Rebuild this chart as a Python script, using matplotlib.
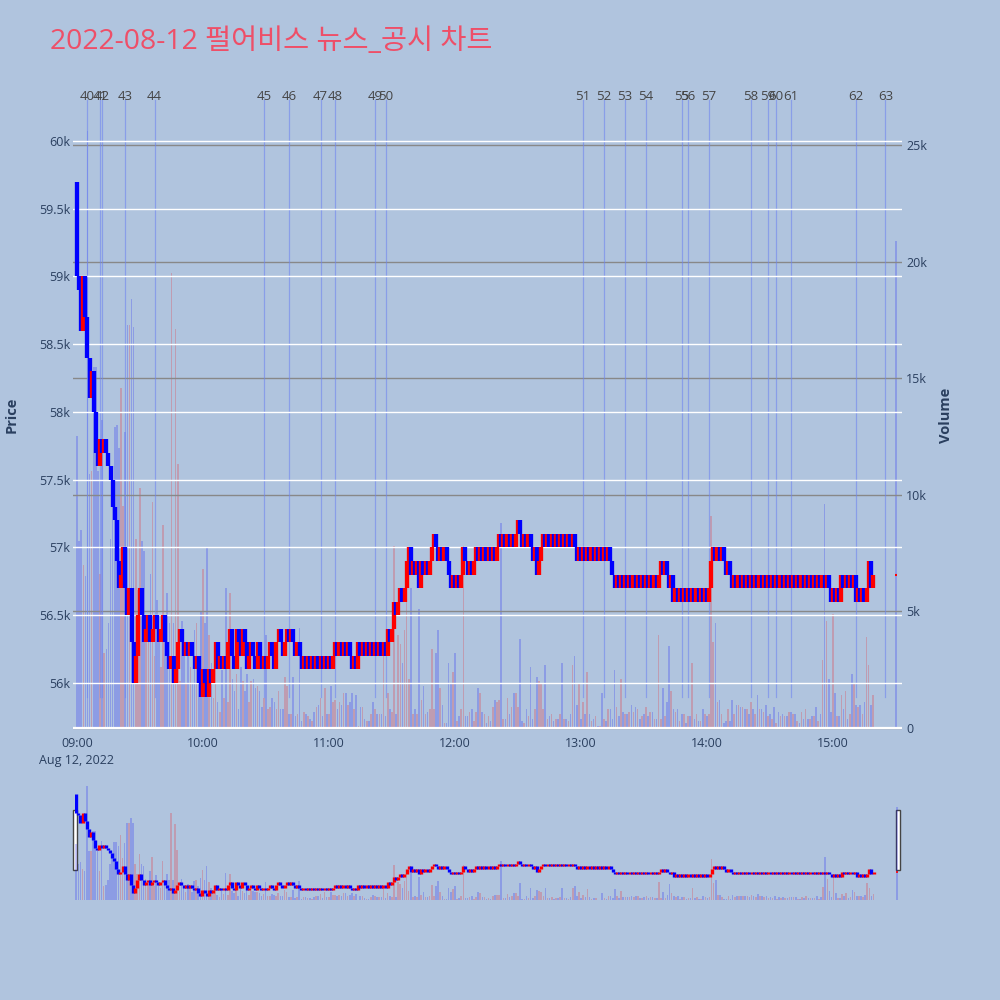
import numpy as np
import matplotlib.pyplot as plt
from matplotlib.patches import Rectangle

# 한글 폰트 설정
plt.rcParams['font.family'] = ['Open Sans', 'Noto Sans CJK KR', 'DejaVu Sans']

title = '2022-08-12 펄어비스 뉴스_공시 차트'

# 1분봉 종가 (단위: 100원), 09:00 ~ 15:19
first_open = 597
closes = [
    590, 589, 586, 590, 587, 584, 581, 583, 580, 577,
    576, 578, 577, 578, 577, 576, 575, 573, 572, 569,
    567, 568, 570, 567, 565, 567, 563, 560, 562, 565,
    567, 565, 563, 564, 565, 563, 564, 565, 564, 563,
    564, 565, 563, 562, 561, 562, 560, 561, 563, 564,
    563, 562, 563, 562, 563, 562, 561, 562, 560, 559,
    561, 560, 559, 561, 560, 561, 563, 561, 562, 561,
    562, 561, 563, 564, 562, 561, 564, 563, 562, 564,
    563, 561, 562, 563, 562, 561, 563, 562, 561, 562,
    561, 562, 563, 562, 561, 563, 564, 563, 562, 563,
    564, 563, 564, 563, 562, 563, 562, 561, 562, 561,
    562, 561, 562, 561, 562, 561, 562, 561, 562, 561,
    562, 561, 562, 563, 562, 563, 562, 563, 562, 563,
    562, 561, 562, 561, 563, 562, 563, 562, 563, 562,
    563, 562, 563, 562, 563, 562, 563, 562, 564, 563,
    564, 566, 565, 566, 567, 566, 567, 569, 570, 568,
    569, 568, 569, 567, 569, 568, 569, 568, 569, 570,
    571, 570, 569, 570, 569, 570, 569, 568, 567, 568,
    567, 568, 567, 568, 570, 569, 568, 569, 568, 569,
    570, 569, 570, 569, 570, 569, 570, 569, 570, 569,
    570, 571, 570, 571, 570, 571, 570, 571, 570, 571,
    572, 571, 570, 571, 570, 571, 570, 569, 570, 568,
    569, 570, 571, 570, 571, 570, 571, 570, 571, 570,
    571, 570, 571, 570, 571, 570, 571, 570, 569, 570,
    569, 570, 569, 570, 569, 570, 569, 570, 569, 570,
    569, 570, 569, 570, 569, 568, 567, 568, 567, 568,
    567, 568, 567, 568, 567, 568, 567, 568, 567, 568,
    567, 568, 567, 568, 567, 568, 567, 568, 569, 568,
    569, 568, 567, 568, 566, 567, 566, 567, 566, 567,
    566, 567, 566, 567, 566, 567, 566, 567, 566, 567,
    566, 567, 569, 570, 569, 570, 569, 570, 569, 568,
    569, 568, 567, 568, 567, 568, 567, 568, 567, 568,
    567, 568, 567, 568, 567, 568, 567, 568, 567, 568,
    567, 568, 567, 568, 567, 568, 567, 568, 567, 568,
    567, 568, 567, 568, 567, 568, 567, 568, 567, 568,
    567, 568, 567, 568, 567, 568, 567, 568, 567, 566,
    567, 566, 567, 566, 568, 567, 568, 567, 568, 567,
    568, 566, 567, 566, 567, 566, 567, 569, 567, 568,
]

# 1분봉 거래량 (단위: 천주)
volumes = [
    12.5, 8.0, 8.5, 7.0, 6.5, 25.6, 10.9, 11.0, 15.5, 15.5,
    11.0, 6.6, 13.2, 3.2, 3.4, 4.5, 8.1, 9.9, 12.9, 13.0,
    12.0, 14.6, 9.5, 12.7, 17.3, 17.3, 18.4, 17.2, 8.1, 5.9,
    10.3, 8.0, 7.6, 4.7, 4.3, 6.6, 9.7, 3.1, 5.5, 3.7,
    2.6, 8.7, 4.5, 5.8, 4.5, 19.5, 4.5, 17.1, 11.3, 2.0,
    4.6, 3.1, 1.9, 3.6, 2.6, 1.9, 4.2, 4.5, 3.1, 5.0,
    6.8, 4.5, 7.7, 4.0, 2.8, 1.3, 2.6, 1.1, 0.7, 2.5,
    1.3, 6.0, 1.1, 5.8, 2.1, 1.6, 2.3, 0.8, 2.6, 2.0,
    1.6, 2.3, 1.1, 2.0, 2.1, 1.7, 1.8, 1.6, 0.9, 1.3,
    4.0, 0.8, 0.9, 1.3, 1.1, 0.8, 1.6, 0.8, 0.8, 2.2,
    1.8, 0.6, 0.6, 2.2, 0.5, 0.6, 4.3, 0.3, 0.7, 0.6,
    0.5, 0.4, 0.3, 0.7, 0.9, 1.0, 1.3, 0.5, 1.7, 0.6,
    0.6, 1.8, 1.1, 1.2, 0.8, 1.1, 1.0, 1.5, 1.5, 1.0,
    1.1, 1.5, 0.8, 1.4, 0.1, 0.9, 0.9, 0.4, 0.3, 0.3,
    0.6, 1.1, 0.8, 0.6, 0.6, 0.6, 3.1, 0.5, 1.5, 0.8,
    0.7, 7.8, 0.6, 4.0, 3.6, 2.8, 4.2, 6.0, 2.1, 6.0,
    0.6, 0.8, 0.6, 5.1, 1.2, 1.8, 0.6, 0.7, 0.8, 3.4,
    0.8, 3.2, 4.2, 1.7, 1.0, 0.2, 0.2, 2.8, 1.9, 2.4,
    3.2, 0.3, 0.5, 0.8, 7.8, 0.5, 0.5, 0.7, 0.8, 0.3,
    0.7, 1.7, 1.5, 0.7, 0.6, 0.2, 0.5, 0.3, 0.9, 1.2,
    1.1, 1.2, 8.8, 0.4, 0.4, 1.3, 0.6, 0.9, 1.5, 1.5,
    0.9, 3.8, 0.3, 0.2, 0.8, 0.5, 2.6, 0.4, 0.8, 2.2,
    2.0, 1.9, 0.8, 2.7, 0.4, 0.5, 0.6, 0.3, 0.4, 0.4,
    0.6, 2.8, 0.4, 0.4, 0.3, 0.6, 2.7, 3.1, 1.0, 1.9,
    0.4, 1.1, 0.6, 2.4, 0.6, 0.3, 0.4, 0.5, 0.1, 0.1,
    1.5, 0.4, 0.3, 0.8, 0.8, 0.4, 2.5, 0.9, 0.5, 2.1,
    0.7, 0.6, 0.6, 0.7, 1.0, 0.7, 0.9, 0.8, 0.4, 0.5,
    0.6, 0.9, 0.5, 0.7, 0.7, 0.4, 0.4, 4.0, 0.4, 1.7,
    0.5, 1.1, 3.5, 1.6, 0.8, 0.7, 0.8, 0.3, 0.6, 0.6,
    0.2, 0.5, 0.5, 2.8, 0.4, 0.6, 0.3, 0.3, 0.8, 0.6,
    0.5, 0.6, 9.1, 3.7, 4.5, 1.1, 1.2, 0.6, 0.2, 0.3,
    0.8, 0.3, 1.2, 0.6, 1.0, 1.0, 0.9, 0.9, 0.8, 0.8,
    0.6, 1.1, 0.8, 0.6, 1.4, 0.8, 0.8, 0.7, 1.0, 0.5,
    0.6, 0.4, 0.9, 0.2, 0.7, 0.5, 0.6, 0.5, 0.5, 0.7,
    0.7, 0.6, 0.6, 0.3, 0.2, 0.7, 0.4, 0.8, 0.4, 0.4,
    0.5, 0.5, 0.9, 0.3, 0.6, 2.9, 9.6, 4.6, 2.1, 0.7,
    4.9, 1.5, 0.5, 0.5, 1.4, 0.8, 1.6, 0.4, 0.6, 2.3,
    1.9, 1.0, 0.9, 1.0, 0.6, 1.1, 3.9, 2.7, 1.0, 1.4,
]

# 장 마감 동시호가
auction_time = '15:30'
auction_price = 568
auction_volume = 20.9

# 뉴스/공시 번호와 시각
news_no = list(range(40, 64))
news_time = ['09:05', '09:11', '09:12', '09:23', '09:37', '10:29', '10:41', '10:56',
             '11:03', '11:22', '11:27', '13:01', '13:11', '13:21', '13:31', '13:48',
             '13:51', '14:01', '14:21', '14:29', '14:33', '14:40', '15:11', '15:25']

tick_times = ['09:00', '10:00', '11:00', '12:00', '13:00', '14:00', '15:00']


def to_min(t):
    h, m = t.split(':')
    return (int(h) - 9) * 60 + int(m)


# 캔들 데이터 준비
c = np.array(closes) * 100
o = np.r_[first_open * 100, c[:-1]]
x = np.arange(len(c))
colors = np.where(c > o, 'red', 'blue')
lo = np.minimum(o, c).astype(float)
hi = np.maximum(o, c).astype(float)
flat = lo == hi
lo[flat] -= 15
hi[flat] += 15
vol = np.array(volumes) * 1000
ax_auc = to_min(auction_time)

bg = '#E5ECF6'
txt = '#2a3f5f'

fig = plt.figure(figsize=(10, 10), dpi=100, facecolor='#B0C4DE')

# 메인 차트
ax = fig.add_axes([0.073, 0.270, 0.829, 0.635])
axv = ax.twinx()
ax.set_zorder(2)
axv.set_zorder(1)
ax.patch.set_visible(False)
axv.patch.set_facecolor(bg)

axv.bar(x, vol, width=0.75, color=colors, alpha=0.2, linewidth=0)
axv.bar(ax_auc, auction_volume * 1000, width=0.75, color='blue', alpha=0.2, linewidth=0)
axv.set_ylim(-86, 27144)
axv.set_yticks(np.arange(0, 25001, 5000))
axv.set_yticklabels(['0'] + ['%dk' % (v // 1000) for v in range(5000, 25001, 5000)])
axv.grid(axis='y', color='#888888', lw=1.0)
axv.axhline(0, color='white', lw=1.6, zorder=2)

ax.vlines(x, lo, hi, colors=colors, lw=3.1, zorder=3)
ax.hlines(auction_price * 100, ax_auc - 0.5, ax_auc + 0.5, color='red', lw=1.5, zorder=3)
ax.set_ylim(55653, 60339)
ax.set_xlim(-1.9, 392.9)
ax.set_yticks(np.arange(56000, 60001, 500))
ax.set_yticklabels(['%gk' % (v / 1000) for v in np.arange(56000, 60001, 500)])
ax.grid(axis='y', color='white', lw=1.0)

xt = [to_min(t) for t in tick_times]
xl = list(tick_times)
xl[0] = xl[0] + '\nAug 12, 2022'
ax.set_xticks(xt)
ax.set_xticklabels(xl, linespacing=1.4)

# 뉴스 세로선
trans = ax.get_xaxis_transform()
for n, t in zip(news_no, news_time):
    xm = to_min(t)
    ax.plot([xm, xm], [0.052, 0.992], transform=trans, color='#6F86F0', lw=0.9, alpha=0.6, zorder=1)
    ax.text(xm, 0.997, str(n), transform=trans, ha='center', va='center',
            fontsize=9.5, color='#444444', zorder=4)

for a in (ax, axv):
    for s in a.spines.values():
        s.set_visible(False)
    a.tick_params(length=0, labelsize=9, labelcolor=txt)
ax.tick_params(axis='y', pad=2)
ax.tick_params(axis='x', pad=5)
axv.tick_params(axis='y', pad=3)

ax.set_ylabel('Price', fontsize=10.5, fontweight='bold', color=txt)
ax.yaxis.set_label_coords(-0.066, 0.496)
axv.set_ylabel('Volume', fontsize=10.5, fontweight='bold', color=txt)
axv.yaxis.set_label_coords(1.045, 0.496)

# 레인지 슬라이더
nav = fig.add_axes([0.075, 0.100, 0.823, 0.120])
navv = nav.twinx()
nav.set_zorder(2)
navv.set_zorder(1)
nav.patch.set_visible(False)
navv.patch.set_facecolor(bg)
navv.bar(x, vol, width=0.75, color=colors, alpha=0.2, linewidth=0)
navv.bar(ax_auc, auction_volume * 1000, width=0.75, color='blue', alpha=0.2, linewidth=0)
navv.set_ylim(0, 26900)
nav.vlines(x, lo, hi, colors=colors, lw=2.4)
nav.hlines(auction_price * 100, ax_auc - 0.5, ax_auc + 0.5, color='red', lw=1.2)
nav.set_ylim(55744, 60222)
nav.set_xlim(-0.6, 390.6)
for a in (nav, navv):
    a.set_xticks([])
    a.set_yticks([])
    for s in a.spines.values():
        s.set_visible(False)

for hx in (0.073, 0.896):
    fig.add_artist(Rectangle((hx, 0.130), 0.004, 0.060, transform=fig.transFigure,
                             facecolor='white', edgecolor='#444444', lw=1))

fig.text(0.05, 0.958, title, fontsize=20.4, color='#EE4F68', ha='left', va='center')

fig.savefig('out.png', dpi=100, facecolor=fig.get_facecolor())
